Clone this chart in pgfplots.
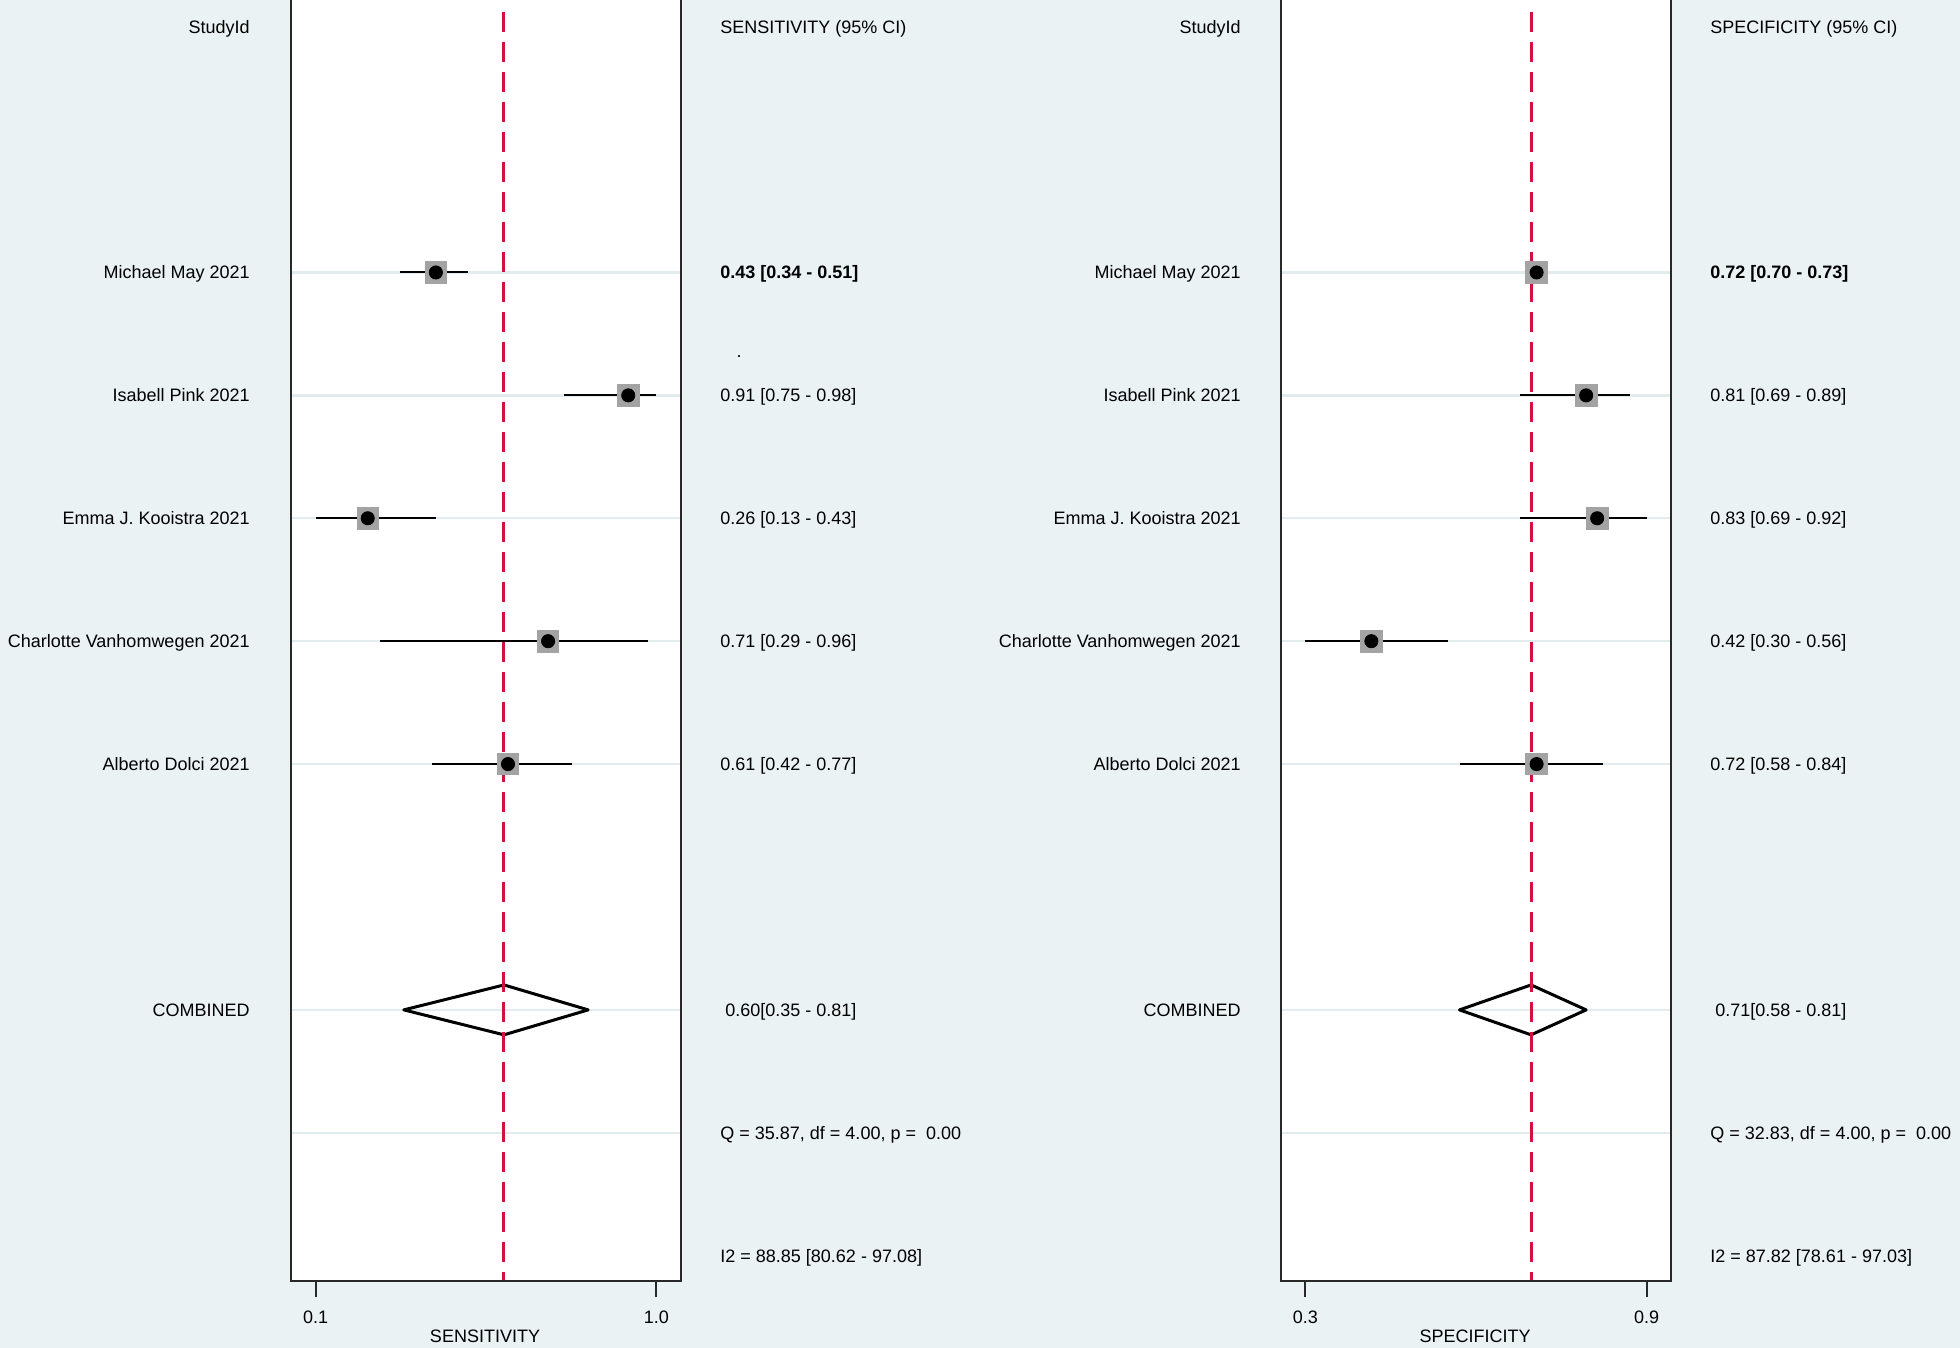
\documentclass[border=0pt]{standalone}
\usepackage{pgfplots}
\pgfplotsset{compat=1.18}
\usepackage{pgfplotstable}
\usepackage{fontspec}
\setmainfont{Liberation Sans}
\definecolor{bg}{RGB}{234,242,243}
\definecolor{gridc}{RGB}{226,236,239}
\definecolor{refred}{RGB}{208,18,60}
\definecolor{sqgray}{RGB}{163,163,163}
\definecolor{framec}{RGB}{40,40,40}

\pgfplotstableread{
row est lo hi
2 0.43 0.34 0.51
3 0.91 0.75 0.98
4 0.26 0.13 0.43
5 0.71 0.29 0.96
6 0.61 0.42 0.77
}\sens
\pgfplotstableread{
row est lo hi
2 0.72 0.70 0.73
3 0.81 0.69 0.89
4 0.83 0.69 0.92
5 0.42 0.30 0.56
6 0.72 0.58 0.84
}\spec

\pgfplotsset{
  forest/.style={
    scale only axis, width=195bp, height=640.5bp, anchor=south west,
    y dir=reverse, ymin=-0.217, ymax=10.206,
    axis line style={draw=none},
    axis background/.style={fill=white},
    ytick={2,3,4,5,6,8,9}, yticklabels={}, ymajorgrids,
    grid style={gridc, line width=1.2bp},
    ytick style={draw=none},
    xtick pos=left, tick align=outside, major tick length=8bp,
    xtick style={framec, line width=1bp},
    xticklabel style={anchor=center, inner sep=0pt, text height=6.44bp, text depth=0pt, yshift=-9.85bp},
    clip=false,
  },
  ci/.style={only marks, mark=none,
    error bars/.cd, x dir=both, x explicit, error mark=none,
    error bar style={draw=black, line width=1bp}},
  sq/.style={only marks, mark=square*, mark size=5.4bp, mark options={fill=sqgray, draw=sqgray}},
  dot/.style={only marks, mark=*, mark size=3.3bp, mark options={fill=black, draw=black}},
}
\tikzset{lab/.style={inner sep=0pt, text height=6.44bp, text depth=0pt}}

\begin{document}
\fontsize{9bp}{10.8bp}\selectfont
\begin{tikzpicture}
\useasboundingbox (0,0) rectangle (980bp,674bp);
\fill[bg] (0,0) rectangle (980bp,674bp);

% ---------- Sensitivity ----------
\begin{axis}[forest, at={(145.5bp,33.5bp)},
  xmin=0.0686, xmax=1.0416, xtick={0.13,0.98}, xticklabels={0.1,1.0}]
\addplot[ci] table[x=est, y=row, x error plus expr=\thisrow{hi}-\thisrow{est}, x error minus expr=\thisrow{est}-\thisrow{lo}] {\sens};
\addplot[black, line width=1.5bp, line join=round, line cap=round] coordinates {(0.35,8) (0.60,7.797) (0.81,8) (0.60,8.203) (0.35,8)};
\addplot[refred, line width=1.5bp, dash pattern=on 10bp off 5bp] coordinates {(0.60,-0.12) (0.60,10.206)};
\addplot[sq] table[x=est, y=row] {\sens};
\addplot[dot] table[x=est, y=row] {\sens};
\draw[framec, line width=1bp] (axis description cs:0,1) -- (axis description cs:0,0) -- (axis description cs:1,0) -- (axis description cs:1,1);
\end{axis}

% ---------- Specificity ----------
\begin{axis}[forest, at={(640.5bp,33.5bp)},
  xmin=0.2559, xmax=0.9641, xtick={0.30,0.92}, xticklabels={0.3,0.9}]
\addplot[ci] table[x=est, y=row, x error plus expr=\thisrow{hi}-\thisrow{est}, x error minus expr=\thisrow{est}-\thisrow{lo}] {\spec};
\addplot[black, line width=1.5bp, line join=round, line cap=round] coordinates {(0.58,8) (0.71,7.797) (0.81,8) (0.71,8.203) (0.58,8)};
\addplot[refred, line width=1.5bp, dash pattern=on 10bp off 5bp] coordinates {(0.71,-0.12) (0.71,10.206)};
\addplot[sq] table[x=est, y=row] {\spec};
\addplot[dot] table[x=est, y=row] {\spec};
\draw[framec, line width=1bp] (axis description cs:0,1) -- (axis description cs:0,0) -- (axis description cs:1,0) -- (axis description cs:1,1);
\end{axis}

% ---------- left text columns ----------
\node[lab, anchor=east] at (125bp,660.65bp) {StudyId};
\node[lab, anchor=east] at (125bp,537.75bp) {Michael May 2021};
\node[lab, anchor=east] at (125bp,476.3bp) {Isabell Pink 2021};
\node[lab, anchor=east] at (125bp,414.85bp) {Emma J. Kooistra 2021};
\node[lab, anchor=east] at (125bp,353.4bp) {Charlotte Vanhomwegen 2021};
\node[lab, anchor=east] at (125bp,291.95bp) {Alberto Dolci 2021};
\node[lab, anchor=east] at (125bp,169.05bp) {COMBINED};

\node[lab, anchor=west] at (360bp,660.65bp) {SENSITIVITY (95\% CI)};
\node[lab, anchor=west] at (360bp,537.75bp) {\bfseries 0.43 [0.34 - 0.51]};
\node[lab, anchor=west] at (360bp,476.3bp) {0.91 [0.75 - 0.98]};
\node[lab, anchor=west] at (360bp,414.85bp) {0.26 [0.13 - 0.43]};
\node[lab, anchor=west] at (360bp,353.4bp) {0.71 [0.29 - 0.96]};
\node[lab, anchor=west] at (360bp,291.95bp) {0.61 [0.42 - 0.77]};
\node[lab, anchor=west] at (362.5bp,169.05bp) {0.60[0.35 - 0.81]};
\node[lab, anchor=west] at (360bp,107.6bp) {Q = 35.87, df = 4.00, p = \ 0.00};
\node[lab, anchor=west] at (360bp,46.15bp) {I2 = 88.85 [80.62 - 97.08]};
\node[inner sep=0pt] at (369.5bp,495.5bp) {.};

% ---------- right text columns ----------
\node[lab, anchor=east] at (620.5bp,660.65bp) {StudyId};
\node[lab, anchor=east] at (620.5bp,537.75bp) {Michael May 2021};
\node[lab, anchor=east] at (620.5bp,476.3bp) {Isabell Pink 2021};
\node[lab, anchor=east] at (620.5bp,414.85bp) {Emma J. Kooistra 2021};
\node[lab, anchor=east] at (620.5bp,353.4bp) {Charlotte Vanhomwegen 2021};
\node[lab, anchor=east] at (620.5bp,291.95bp) {Alberto Dolci 2021};
\node[lab, anchor=east] at (620.5bp,169.05bp) {COMBINED};

\node[lab, anchor=west] at (855bp,660.65bp) {SPECIFICITY (95\% CI)};
\node[lab, anchor=west] at (855bp,537.75bp) {\bfseries 0.72 [0.70 - 0.73]};
\node[lab, anchor=west] at (855bp,476.3bp) {0.81 [0.69 - 0.89]};
\node[lab, anchor=west] at (855bp,414.85bp) {0.83 [0.69 - 0.92]};
\node[lab, anchor=west] at (855bp,353.4bp) {0.42 [0.30 - 0.56]};
\node[lab, anchor=west] at (855bp,291.95bp) {0.72 [0.58 - 0.84]};
\node[lab, anchor=west] at (857.5bp,169.05bp) {0.71[0.58 - 0.81]};
\node[lab, anchor=west] at (855bp,107.6bp) {Q = 32.83, df = 4.00, p = \ 0.00};
\node[lab, anchor=west] at (855bp,46.15bp) {I2 = 87.82 [78.61 - 97.03]};

% ---------- axis titles ----------
\node[lab] at (242.5bp,6bp) {SENSITIVITY};
\node[lab] at (737.5bp,6bp) {SPECIFICITY};
\end{tikzpicture}
\end{document}
